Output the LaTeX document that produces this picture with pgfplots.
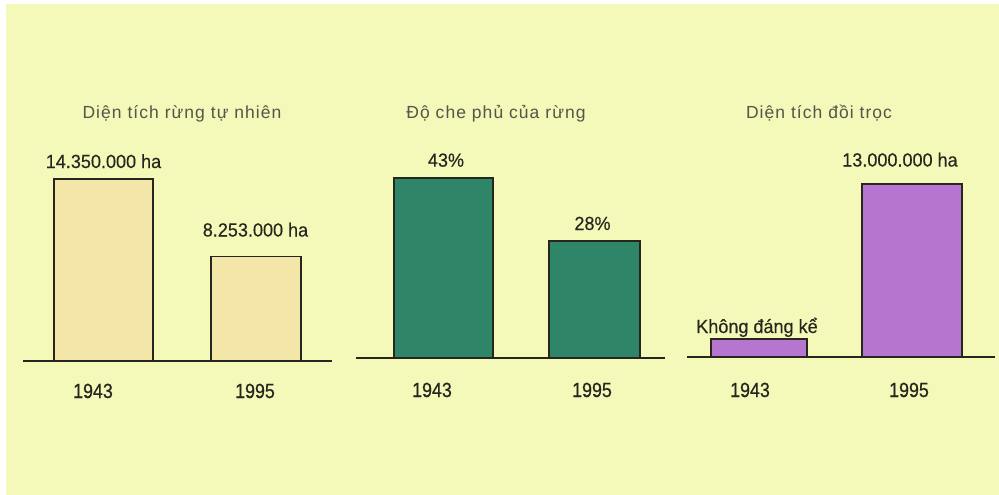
\documentclass[border=0pt]{standalone}
\usepackage{fontspec}
\setmainfont{Liberation Sans}
\newfontfamily\yearface[FakeStretch=0.87,FakeBold=0.6]{Liberation Sans}
\newfontfamily\valface[FakeStretch=0.95,FakeBold=0.3]{Liberation Sans}
\newfontfamily\titleface[LetterSpace=6]{Liberation Sans}
\usepackage{pgfplots}
\pgfplotsset{compat=1.18}
\definecolor{bg}{HTML}{F4F8B8}
\definecolor{beige}{HTML}{F4E6A8}
\definecolor{forest}{HTML}{2F8567}
\definecolor{violet}{HTML}{B676D0}
\definecolor{ink}{HTML}{26261F}
\definecolor{titleink}{HTML}{55554A}
\newcommand{\valfont}{\valface\fontsize{19}{20}\selectfont}
\newcommand{\titlefont}{\titleface\fontsize{17.5}{19}\selectfont}
\newcommand{\yearfont}{\yearface\fontsize{20.5}{22}\selectfont}
\pgfplotsset{
  panel/.style={scale only axis, axis lines=none, clip=false, ymin=0,
    xtick=\empty, ytick=\empty, anchor=south west},
  barstyle/.style={ybar, bar shift=0pt, draw=ink, line width=1.6pt}
}
\begin{document}
\begin{tikzpicture}[x=1pt,y=1pt]
\fill[white] (0,0) rectangle (999,-495);
\fill[bg] (6,-4) rectangle (999,-495);

% Panel 1
\begin{axis}[panel, at={(23pt,-361pt)}, width=309pt, height=182pt,
  xmin=-0.5279, xmax=1.4984, ymax=14.35]
\addplot[barstyle, bar width=99pt, fill=beige] coordinates {(0,14.35)};
\addplot[barstyle, bar width=90pt, fill=beige] coordinates {(1,8.253)};
\draw[line width=2.8pt, ink] (rel axis cs:0,0) -- (rel axis cs:1,0);
\end{axis}

% Panel 2
\begin{axis}[panel, at={(356pt,-358pt)}, width=309pt, height=180pt,
  xmin=-0.5795, xmax=1.4669, ymax=43]
\addplot[barstyle, bar width=99pt, fill=forest] coordinates {(0,43)};
\addplot[barstyle, bar width=91pt, fill=forest] coordinates {(1,28)};
\draw[line width=2.8pt, ink] (rel axis cs:0,0) -- (rel axis cs:1,0);
\end{axis}

% Panel 3
\begin{axis}[panel, at={(687pt,-357pt)}, width=308pt, height=173pt,
  xmin=-0.4706, xmax=1.5425, ymax=13]
\addplot[barstyle, bar width=96pt, fill=violet] coordinates {(0,1.35)};
\addplot[barstyle, bar width=100pt, fill=violet] coordinates {(1,13)};
\draw[line width=2.8pt, ink] (rel axis cs:0,0) -- (rel axis cs:1,0);
\end{axis}

% Titles
\node[anchor=base, text=titleink, font=\titlefont] at (182,-118) {Diện tích rừng tự nhiên};
\node[anchor=base, text=titleink, font=\titlefont] at (496,-118) {Độ che phủ của rừng};
\node[anchor=base, text=titleink, font=\titlefont] at (819,-118) {Diện tích đồi trọc};

% Value labels
\node[anchor=base, text=ink, font=\valfont] at (103.5,-168) {14.350.000 ha};
\node[anchor=base, text=ink, font=\valfont] at (255.5,-236.5) {8.253.000 ha};
\node[anchor=base, text=ink, font=\valfont] at (446,-166.7) {43\%};
\node[anchor=base, text=ink, font=\valfont] at (592.5,-230) {28\%};
\node[anchor=base, text=ink, font=\valfont] at (757,-333) {Không đáng kể};
\node[anchor=base, text=ink, font=\valfont] at (900,-166.5) {13.000.000 ha};

% Years
\node[anchor=base, text=ink, font=\yearfont] at (93,-398) {1943};
\node[anchor=base, text=ink, font=\yearfont] at (255,-398) {1995};
\node[anchor=base, text=ink, font=\yearfont] at (432,-397) {1943};
\node[anchor=base, text=ink, font=\yearfont] at (592,-397) {1995};
\node[anchor=base, text=ink, font=\yearfont] at (750,-397) {1943};
\node[anchor=base, text=ink, font=\yearfont] at (909,-397) {1995};

\pgfresetboundingbox
\useasboundingbox (0,0) rectangle (999,-495);
\end{tikzpicture}
\end{document}
